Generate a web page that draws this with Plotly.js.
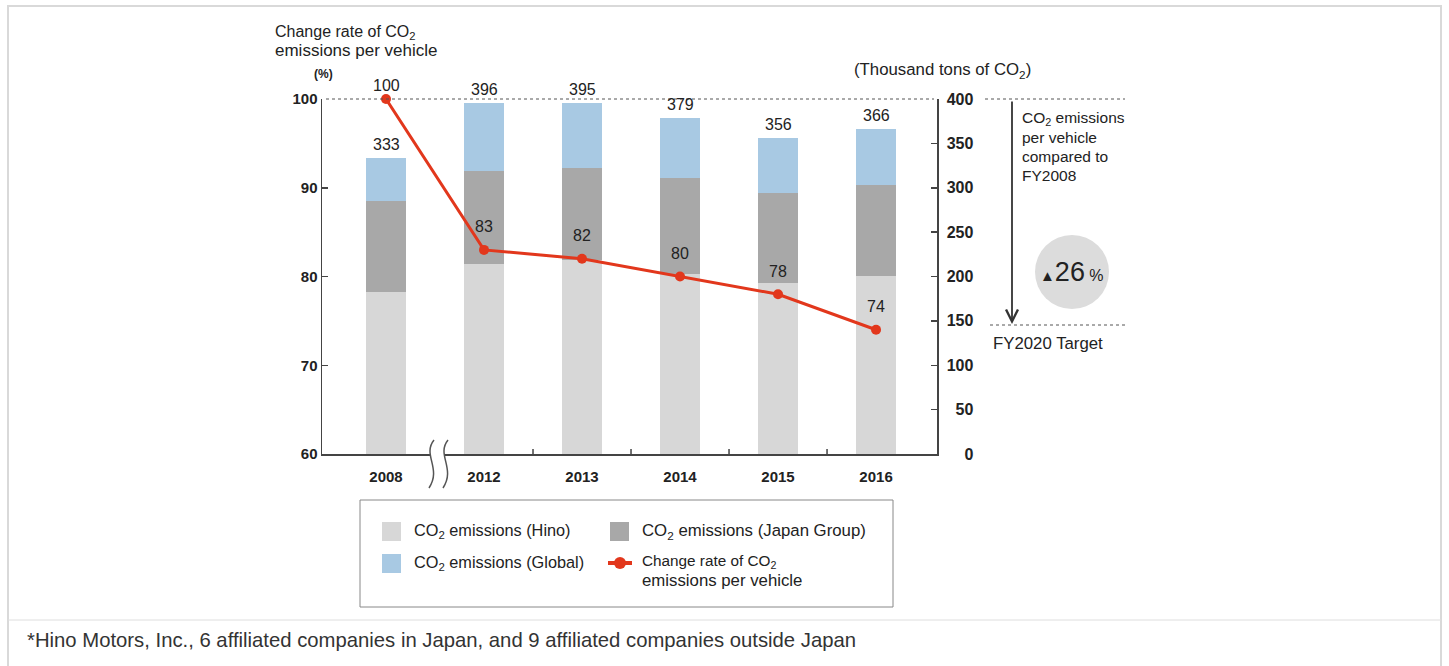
<!DOCTYPE html>
<html><head><meta charset="utf-8">
<script src="https://cdn.plot.ly/plotly-3.0.1.min.js"></script>
<style>html,body{margin:0;padding:0;background:#fff}#chart{width:1449px;height:666px}</style>
</head><body><div id="chart"></div>
<script>
// ---- data ----
const years = ['2008', '2012', '2013', '2014', '2015', '2016'];
const hinoEmissions = [183, 214, 219, 203, 193, 201];          // top of Hino segment
const japanGroupCumulative = [285, 319, 322, 311, 294, 303];   // top of Japan Group segment
const globalCumulative = [333, 396, 395, 379, 356, 366];       // bar totals
const changeRate = [100, 83, 82, 80, 78, 74];                  // % vs FY2008
const leftTickVals = [60, 70, 80, 90, 100];
const rightTickVals = [0, 50, 100, 150, 200, 250, 300, 350, 400];

// ---- geometry helpers (pixel -> paper) ----
const L = 322, R = 937, T = 99, B = 454;
const px = x => (x - L) / (R - L);
const py = y => (B - y) / (B - T);
const FONT = 'Liberation Sans, Arial, Helvetica, sans-serif';
const C_HINO = '#d7d7d7', C_JPN = '#a8a8a8', C_GLB = '#a8c9e3', C_RED = '#e2371c';

const japanSeg = japanGroupCumulative.map((v, i) => v - hinoEmissions[i]);
const globalSeg = globalCumulative.map((v, i) => v - japanGroupCumulative[i]);

const traces = [
  {type: 'bar', x: years, y: hinoEmissions, name: 'CO<sub>2</sub> emissions (Hino)', marker: {color: C_HINO}, yaxis: 'y', hoverinfo: 'y'},
  {type: 'bar', x: years, y: japanSeg, name: 'CO<sub>2</sub> emissions (Japan Group)', marker: {color: C_JPN}, yaxis: 'y', hoverinfo: 'y'},
  {type: 'bar', x: years, y: globalSeg, name: 'CO<sub>2</sub> emissions (Global)', marker: {color: C_GLB}, yaxis: 'y', hoverinfo: 'y'},
  {type: 'scatter', mode: 'lines+markers', x: years, y: changeRate, name: 'Change rate of CO<sub>2</sub> emissions per vehicle',
   yaxis: 'y2', cliponaxis: false, line: {color: C_RED, width: 3}, marker: {color: C_RED, size: 10}}
];

const padFig = (s, n) => { s = String(s); while (s.length < n) s = '\u2007' + s; return s; };

const annotations = [];
const shapes = [];

// bar totals (category axis -> use category index)
years.forEach((yr, i) => annotations.push({
  x: i, y: globalCumulative[i], xref: 'x', yref: 'y', text: String(globalCumulative[i]),
  showarrow: false, yanchor: 'bottom', yshift: 3, font: {family: FONT, size: 16, color: '#222'}
}));
// line labels
years.forEach((yr, i) => annotations.push({
  x: i, y: changeRate[i], xref: 'x', yref: 'y2', text: String(changeRate[i]),
  showarrow: false, yanchor: 'middle', yshift: i === 0 ? 14 : 23, font: {family: FONT, size: 16, color: '#222'}
}));

const txt = (x, y, text, size, opts) => Object.assign({
  x: px(x), y: py(y), xref: 'paper', yref: 'paper', text: text, showarrow: false,
  xanchor: 'left', yanchor: 'middle', align: 'left', font: {family: FONT, size: size, color: '#222'}
}, opts || {});

// axis captions
annotations.push(txt(273, 32, 'Change rate of CO<sub>2</sub>', 16));
annotations.push(txt(273, 51, 'emissions per vehicle', 17));
annotations.push(txt(312, 74, '(%)', 12, {font: {family: FONT, size: 12, color: '#222', weight: 700}}));
annotations.push(txt(852, 70, '(Thousand tons of CO<sub>2</sub>)', 16.8));
// right side note
annotations.push(txt(1020, 118, 'CO<sub>2</sub> emissions', 15.5));
annotations.push(txt(1020, 137, 'per vehicle', 15.5));
annotations.push(txt(1020, 156, 'compared to', 15.5));
annotations.push(txt(1020, 175, 'FY2008', 15.5));
annotations.push(txt(991, 343, 'FY2020 Target', 16.8));
annotations.push({
  x: px(1012), y: py(324), xref: 'paper', yref: 'paper', ax: 0, ay: -224, axref: 'pixel', ayref: 'pixel',
  text: '', showarrow: true, arrowhead: 5, arrowsize: 1.3, arrowwidth: 1.8, arrowcolor: '#333', standoff: 0
});
annotations.push({
  x: px(1072), y: py(272), xref: 'paper', yref: 'paper', showarrow: false, xanchor: 'center', yanchor: 'middle',
  text: '<span style="font-size:15px">▲</span><span style="font-size:27px">26</span><span style="font-size:16px"> %</span>',
  font: {family: FONT, size: 22, color: '#222'}
});
// legend texts
annotations.push(txt(412, 531, 'CO<sub>2</sub> emissions (Hino)', 16.3));
annotations.push(txt(640, 531, 'CO<sub>2</sub> emissions (Japan Group)', 16.8));
annotations.push(txt(412, 563, 'CO<sub>2</sub> emissions (Global)', 16.3));
annotations.push(txt(640, 561, 'Change rate of CO<sub>2</sub>', 15.3));
annotations.push(txt(640, 580, 'emissions per vehicle', 16.8));
// footnote
annotations.push(txt(25, 640, '*Hino Motors, Inc., 6 affiliated companies in Japan, and 9 affiliated companies outside Japan', 20.3, {font: {family: FONT, size: 20.3, color: '#333'}}));

// outer frame
shapes.push({type: 'rect', xref: 'paper', yref: 'paper', x0: px(8), x1: px(1441), y0: py(700), y1: py(6), line: {color: '#d9d9d9', width: 2}, layer: 'below'});
shapes.push({type: 'line', xref: 'paper', yref: 'paper', x0: px(8), x1: px(1441), y0: py(620), y1: py(620), line: {color: '#dedede', width: 1}});
// dotted reference lines
const dot = {color: '#555', width: 1, dash: 'dot'};
shapes.push({type: 'line', xref: 'paper', yref: 'paper', x0: px(326), x1: px(934), y0: py(99), y1: py(99), line: dot});
shapes.push({type: 'line', xref: 'paper', yref: 'paper', x0: px(985), x1: px(1125), y0: py(99), y1: py(99), line: dot});
shapes.push({type: 'line', xref: 'paper', yref: 'paper', x0: px(990), x1: px(1125), y0: py(325), y1: py(325), line: dot});
// circle badge
shapes.push({type: 'circle', xref: 'paper', yref: 'paper', x0: px(1035), x1: px(1109), y0: py(309), y1: py(235), fillcolor: '#dcdcdc', line: {width: 0}, layer: 'below'});
// inter-category ticks on the x axis
for (let i = 1; i < years.length - 1; i++) {
  shapes.push({type: 'line', xref: 'x', yref: 'paper', x0: i + 0.5, x1: i + 0.5, y0: 0, y1: py(449), line: {color: '#444', width: 1.5}});
}
// axis break symbol
const P = (x, y) => px(x) + ',' + py(y);
shapes.push({type: 'path', xref: 'paper', yref: 'paper', fillcolor: '#fff', line: {width: 0},
  path: 'M' + P(434, 440) + ' C' + P(422, 455) + ' ' + P(442, 468) + ' ' + P(429, 488) + ' L' + P(443, 488) +
        ' C' + P(456, 468) + ' ' + P(436, 455) + ' ' + P(448, 440) + ' Z'});
shapes.push({type: 'path', xref: 'paper', yref: 'paper', line: {color: '#555', width: 1.5},
  path: 'M' + P(434, 440) + ' C' + P(422, 455) + ' ' + P(442, 468) + ' ' + P(429, 488)});
shapes.push({type: 'path', xref: 'paper', yref: 'paper', line: {color: '#555', width: 1.5},
  path: 'M' + P(448, 440) + ' C' + P(436, 455) + ' ' + P(456, 468) + ' ' + P(443, 488)});
// custom legend
shapes.push({type: 'rect', xref: 'paper', yref: 'paper', x0: px(360), x1: px(893), y0: py(607), y1: py(500), line: {color: '#888', width: 1}});
shapes.push({type: 'rect', xref: 'paper', yref: 'paper', x0: px(382), x1: px(401), y0: py(541), y1: py(522), fillcolor: C_HINO, line: {width: 0}});
shapes.push({type: 'rect', xref: 'paper', yref: 'paper', x0: px(610), x1: px(629), y0: py(541), y1: py(522), fillcolor: C_JPN, line: {width: 0}});
shapes.push({type: 'rect', xref: 'paper', yref: 'paper', x0: px(382), x1: px(401), y0: py(573), y1: py(554), fillcolor: C_GLB, line: {width: 0}});
shapes.push({type: 'line', xref: 'paper', yref: 'paper', x0: px(608), x1: px(632), y0: py(563), y1: py(563), line: {color: C_RED, width: 4}});
shapes.push({type: 'circle', xref: 'paper', yref: 'paper', x0: px(614), x1: px(626), y0: py(569), y1: py(557), fillcolor: C_RED, line: {width: 0}});

const tickFont = {family: FONT, size: 15, color: '#222', weight: 700};
const layout = {
  width: 1449, height: 666,
  margin: {l: L, r: 1449 - R, t: T, b: 666 - B, pad: 0},
  paper_bgcolor: '#fff', plot_bgcolor: 'rgba(0,0,0,0)',
  barmode: 'stack', bargap: 0.59, showlegend: false,
  font: {family: FONT, color: '#222'},
  xaxis: {type: 'category', range: [-0.653, 5.622], showline: true, linecolor: '#444', linewidth: 1.5,
          ticks: '', tickfont: tickFont, showgrid: false, zeroline: false, ticklabelstandoff: 8, fixedrange: true},
  yaxis: {side: 'right', range: [0, 400], tickvals: rightTickVals, ticktext: rightTickVals.map(v => padFig(v, 3)),
          showline: true, linecolor: '#444', linewidth: 1.5, ticks: 'inside', ticklen: 6, tickcolor: '#444', tickwidth: 1.5,
          tickfont: {family: FONT, size: 16, color: '#222', weight: 700}, showgrid: false, zeroline: false, ticklabelstandoff: 5, fixedrange: true},
  yaxis2: {overlaying: 'y', side: 'left', range: [60, 100], tickvals: leftTickVals,
           showline: true, linecolor: '#444', linewidth: 1.5, ticks: 'inside', ticklen: 6, tickcolor: '#444', tickwidth: 1.5,
           tickfont: tickFont, showgrid: false, zeroline: false, fixedrange: true},
  annotations: annotations, shapes: shapes
};
Plotly.newPlot('chart', traces, layout, {displayModeBar: false, staticPlot: true});
</script></body></html>
